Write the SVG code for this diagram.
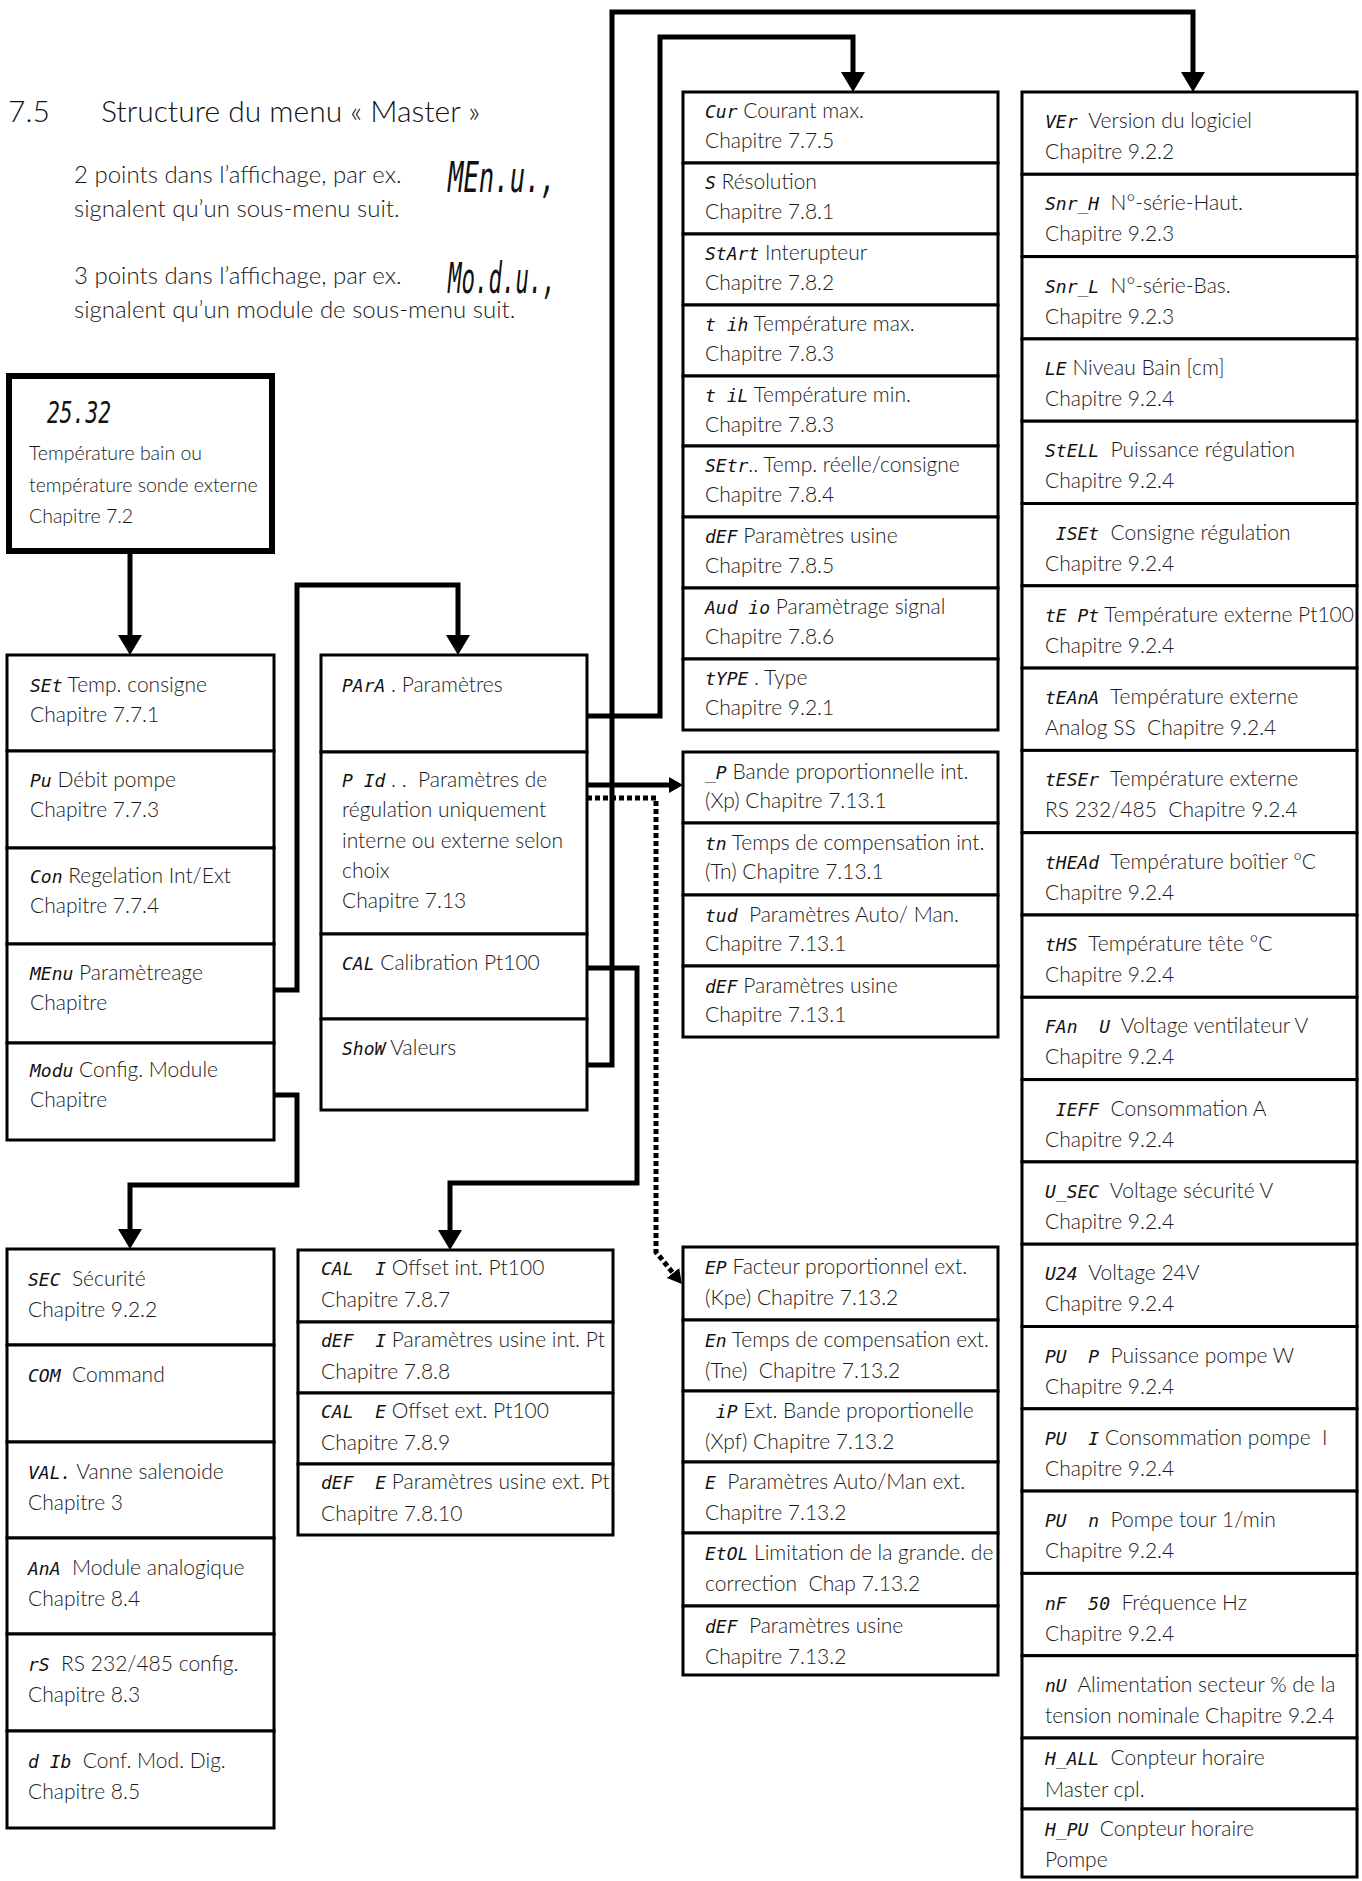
<svg xmlns="http://www.w3.org/2000/svg" width="1362" height="1881" viewBox="0 0 1362 1881">
<style>
.t{font-family:Lato,"Open Sans",sans-serif;font-size:21px;font-weight:300;fill:#1a1a1a}
.h{font-family:Lato,"Open Sans",sans-serif;font-size:24px;font-weight:300;fill:#1a1a1a}
.ti{font-family:Lato,"Open Sans",sans-serif;font-size:30px;font-weight:300;fill:#111}
.s{font-family:"DejaVu Sans Mono",monospace;font-style:oblique;font-size:18px;fill:#111}
.sb{font-family:"DejaVu Sans Mono",monospace;font-style:oblique;font-size:42px;fill:#111}
.box{fill:#fff;stroke:#000;stroke-width:3}
.bold{fill:#fff;stroke:#000;stroke-width:6}
.c{fill:none;stroke:#000;stroke-width:5}
.d{fill:none;stroke:#000;stroke-width:5;stroke-dasharray:5 3}
</style>
<defs>
<marker id="a" markerUnits="userSpaceOnUse" viewBox="0 0 20 24" markerWidth="20" markerHeight="24" refX="0" refY="12" orient="auto"><path d="M0,0 L20,12 L0,24 z" fill="#000"/></marker>
<marker id="as" markerUnits="userSpaceOnUse" viewBox="0 0 14 16" markerWidth="14" markerHeight="16" refX="0" refY="8" orient="auto"><path d="M0,0 L14,8 L0,16 z" fill="#000"/></marker>
</defs>

<g id="header">
<text class="ti" x="8" y="122">7.5</text>
<text class="ti" x="101" y="122">Structure du menu « Master »</text>
<text class="h" x="74" y="183">2 points dans l’affichage, par ex.</text>
<text class="sb" x="448" y="192" textLength="108" lengthAdjust="spacingAndGlyphs">MEn.u.,</text>
<text class="h" x="74" y="217">signalent qu’un sous-menu suit.</text>
<text class="h" x="74" y="284">3 points dans l’affichage, par ex.</text>
<text class="sb" x="448" y="293" textLength="108" lengthAdjust="spacingAndGlyphs">Mo.d.u.,</text>
<text class="h" x="74" y="318">signalent qu’un module de sous-menu suit.</text>
</g>

<g id="connectors">
<path class="c" d="M130,554 V635" marker-end="url(#a)"/>
<path class="c" d="M274,990 H297 V585 H458 V635" marker-end="url(#a)"/>
<path class="c" d="M274,1095 H297 V1185 H130 V1229" marker-end="url(#a)"/>
<path class="c" d="M587,716 H660 V37 H853 V72" marker-end="url(#a)"/>
<path class="c" d="M587,1065 H612 V12 H1193 V72" marker-end="url(#a)"/>
<path class="c" d="M587,968 H637 V1183 H450 V1230" marker-end="url(#a)"/>
<path class="c" d="M587,785 H669" marker-end="url(#as)"/>
<path class="d" d="M587,798 H656 V1252 L673,1273" marker-end="url(#as)"/>
</g>

<g id="n-display">
<rect class="bold" x="9" y="376" width="263" height="175"/>
<text class="sb" x="47" y="423" style="font-size:30px" textLength="64" lengthAdjust="spacingAndGlyphs">25.32</text>
<text class="t" x="29" y="460" style="font-size:19.5px">Température bain ou</text>
<text class="t" x="29" y="492" style="font-size:19.5px">température sonde externe</text>
<text class="t" x="29" y="523" style="font-size:19.5px">Chapitre 7.2</text>
</g>

<g id="n-main">
<rect class="box" x="7" y="655" width="267" height="96"/>
<rect class="box" x="7" y="751" width="267" height="97"/>
<rect class="box" x="7" y="848" width="267" height="96"/>
<rect class="box" x="7" y="944" width="267" height="99"/>
<rect class="box" x="7" y="1043" width="267" height="97"/>
<text class="t" x="30" y="692"><tspan class="s">SEt</tspan> Temp. consigne</text>
<text class="t" x="30" y="722">Chapitre 7.7.1</text>
<text class="t" x="30" y="787"><tspan class="s">Pu</tspan> Débit pompe</text>
<text class="t" x="30" y="817">Chapitre 7.7.3</text>
<text class="t" x="30" y="883"><tspan class="s">Con</tspan> Regelation Int/Ext</text>
<text class="t" x="30" y="913">Chapitre 7.7.4</text>
<text class="t" x="30" y="980"><tspan class="s">MEnu</tspan> Paramètreage</text>
<text class="t" x="30" y="1010">Chapitre</text>
<text class="t" x="30" y="1077"><tspan class="s">Modu</tspan> Config. Module</text>
<text class="t" x="30" y="1107">Chapitre</text>
</g>

<g id="n-menu">
<rect class="box" x="321" y="655" width="266" height="97"/>
<rect class="box" x="321" y="752" width="266" height="182"/>
<rect class="box" x="321" y="934" width="266" height="85"/>
<rect class="box" x="321" y="1019" width="266" height="91"/>
<text class="t" x="342" y="692"><tspan class="s">PArA</tspan> . Paramètres</text>
<text class="t" x="342" y="787"><tspan class="s">P Id</tspan> . .&#160; Paramètres de</text>
<text class="t" x="342" y="817">régulation uniquement</text>
<text class="t" x="342" y="848">interne ou externe selon</text>
<text class="t" x="342" y="878">choix</text>
<text class="t" x="342" y="908">Chapitre 7.13</text>
<text class="t" x="342" y="970"><tspan class="s">CAL</tspan> Calibration Pt100</text>
<text class="t" x="342" y="1055"><tspan class="s">ShoW</tspan> Valeurs</text>
</g>

<g id="n-para">
<rect class="box" x="683" y="92" width="315" height="71"/>
<rect class="box" x="683" y="163" width="315" height="71"/>
<rect class="box" x="683" y="234" width="315" height="71"/>
<rect class="box" x="683" y="305" width="315" height="71"/>
<rect class="box" x="683" y="376" width="315" height="70"/>
<rect class="box" x="683" y="446" width="315" height="71"/>
<rect class="box" x="683" y="517" width="315" height="71"/>
<rect class="box" x="683" y="588" width="315" height="71"/>
<rect class="box" x="683" y="659" width="315" height="71"/>
<text class="t" x="705" y="118"><tspan class="s">Cur</tspan> Courant max.</text>
<text class="t" x="705" y="148">Chapitre 7.7.5</text>
<text class="t" x="705" y="189"><tspan class="s">S</tspan> Résolution</text>
<text class="t" x="705" y="219">Chapitre 7.8.1</text>
<text class="t" x="705" y="260"><tspan class="s">StArt</tspan> Interupteur</text>
<text class="t" x="705" y="290">Chapitre 7.8.2</text>
<text class="t" x="705" y="331"><tspan class="s">t ih</tspan> Température max.</text>
<text class="t" x="705" y="361">Chapitre 7.8.3</text>
<text class="t" x="705" y="402"><tspan class="s">t iL</tspan> Température min.</text>
<text class="t" x="705" y="432">Chapitre 7.8.3</text>
<text class="t" x="705" y="472"><tspan class="s">SEtr</tspan>.. Temp. réelle/consigne</text>
<text class="t" x="705" y="502">Chapitre 7.8.4</text>
<text class="t" x="705" y="543"><tspan class="s">dEF</tspan> Paramètres usine</text>
<text class="t" x="705" y="573">Chapitre 7.8.5</text>
<text class="t" x="705" y="614"><tspan class="s">Aud io</tspan> Paramètrage signal</text>
<text class="t" x="705" y="644">Chapitre 7.8.6</text>
<text class="t" x="705" y="685"><tspan class="s">tYPE</tspan> . Type</text>
<text class="t" x="705" y="715">Chapitre 9.2.1</text>
</g>

<g id="n-pid-int">
<rect class="box" x="683" y="752" width="315" height="71"/>
<rect class="box" x="683" y="823" width="315" height="72"/>
<rect class="box" x="683" y="895" width="315" height="71"/>
<rect class="box" x="683" y="966" width="315" height="71"/>
<text class="t" x="705" y="779"><tspan class="s">_P</tspan> Bande proportionnelle int.</text>
<text class="t" x="705" y="808">(Xp) Chapitre 7.13.1</text>
<text class="t" x="705" y="850"><tspan class="s">tn</tspan> Temps de compensation int.</text>
<text class="t" x="705" y="879">(Tn) Chapitre 7.13.1</text>
<text class="t" x="705" y="922"><tspan class="s">tud</tspan>&#160; Paramètres Auto/ Man.</text>
<text class="t" x="705" y="951">Chapitre 7.13.1</text>
<text class="t" x="705" y="993"><tspan class="s">dEF</tspan> Paramètres usine</text>
<text class="t" x="705" y="1022">Chapitre 7.13.1</text>
</g>

<g id="n-cal">
<rect class="box" x="298" y="1250" width="315" height="72"/>
<rect class="box" x="298" y="1322" width="315" height="71"/>
<rect class="box" x="298" y="1393" width="315" height="71"/>
<rect class="box" x="298" y="1464" width="315" height="71"/>
<text class="t" x="321" y="1275"><tspan class="s">CAL&#160;&#160;I</tspan> Offset int. Pt100</text>
<text class="t" x="321" y="1307">Chapitre 7.8.7</text>
<text class="t" x="321" y="1347"><tspan class="s">dEF&#160;&#160;I</tspan> Paramètres usine int. Pt</text>
<text class="t" x="321" y="1379">Chapitre 7.8.8</text>
<text class="t" x="321" y="1418"><tspan class="s">CAL&#160;&#160;E</tspan> Offset ext. Pt100</text>
<text class="t" x="321" y="1450">Chapitre 7.8.9</text>
<text class="t" x="321" y="1489"><tspan class="s">dEF&#160;&#160;E</tspan> Paramètres usine ext. Pt</text>
<text class="t" x="321" y="1521">Chapitre 7.8.10</text>
</g>

<g id="n-pid-ext">
<rect class="box" x="683" y="1247" width="315" height="73"/>
<rect class="box" x="683" y="1320" width="315" height="71"/>
<rect class="box" x="683" y="1391" width="315" height="71"/>
<rect class="box" x="683" y="1462" width="315" height="71"/>
<rect class="box" x="683" y="1533" width="315" height="73"/>
<rect class="box" x="683" y="1606" width="315" height="69"/>
<text class="t" x="705" y="1274"><tspan class="s">EP</tspan> Facteur proportionnel ext.</text>
<text class="t" x="705" y="1305">(Kpe) Chapitre 7.13.2</text>
<text class="t" x="705" y="1347"><tspan class="s">En</tspan> Temps de compensation ext.</text>
<text class="t" x="705" y="1378">(Tne)&#160; Chapitre 7.13.2</text>
<text class="t" x="705" y="1418"><tspan class="s">&#160;iP</tspan> Ext. Bande proportionelle</text>
<text class="t" x="705" y="1449">(Xpf) Chapitre 7.13.2</text>
<text class="t" x="705" y="1489"><tspan class="s">E</tspan>&#160; Paramètres Auto/Man ext.</text>
<text class="t" x="705" y="1520">Chapitre 7.13.2</text>
<text class="t" x="705" y="1560"><tspan class="s">EtOL</tspan> Limitation de la grande. de</text>
<text class="t" x="705" y="1591">correction&#160; Chap 7.13.2</text>
<text class="t" x="705" y="1633"><tspan class="s">dEF</tspan>&#160; Paramètres usine</text>
<text class="t" x="705" y="1664">Chapitre 7.13.2</text>
</g>

<g id="n-modu">
<rect class="box" x="7" y="1249" width="267" height="96"/>
<rect class="box" x="7" y="1345" width="267" height="97"/>
<rect class="box" x="7" y="1442" width="267" height="96"/>
<rect class="box" x="7" y="1538" width="267" height="96"/>
<rect class="box" x="7" y="1634" width="267" height="97"/>
<rect class="box" x="7" y="1731" width="267" height="97"/>
<text class="t" x="28" y="1286"><tspan class="s">SEC</tspan>&#160; Sécurité</text>
<text class="t" x="28" y="1317">Chapitre 9.2.2</text>
<text class="t" x="28" y="1382"><tspan class="s">COM</tspan>&#160; Command</text>
<text class="t" x="28" y="1479"><tspan class="s">VAL.</tspan> Vanne salenoide</text>
<text class="t" x="28" y="1510">Chapitre 3</text>
<text class="t" x="28" y="1575"><tspan class="s">AnA</tspan>&#160; Module analogique</text>
<text class="t" x="28" y="1606">Chapitre 8.4</text>
<text class="t" x="28" y="1671"><tspan class="s">rS</tspan>&#160; RS 232/485 config.</text>
<text class="t" x="28" y="1702">Chapitre 8.3</text>
<text class="t" x="28" y="1768"><tspan class="s">d Ib</tspan>&#160; Conf. Mod. Dig.</text>
<text class="t" x="28" y="1799">Chapitre 8.5</text>
</g>

<g id="n-show">
<rect class="box" x="1022" y="92" width="335" height="82.3"/>
<rect class="box" x="1022" y="174.3" width="335" height="82.3"/>
<rect class="box" x="1022" y="256.6" width="335" height="82.3"/>
<rect class="box" x="1022" y="338.9" width="335" height="82.3"/>
<rect class="box" x="1022" y="421.2" width="335" height="82.3"/>
<rect class="box" x="1022" y="503.5" width="335" height="82.3"/>
<rect class="box" x="1022" y="585.8" width="335" height="82.3"/>
<rect class="box" x="1022" y="668.1" width="335" height="82.3"/>
<rect class="box" x="1022" y="750.4" width="335" height="82.3"/>
<rect class="box" x="1022" y="832.7" width="335" height="82.3"/>
<rect class="box" x="1022" y="915" width="335" height="82.3"/>
<rect class="box" x="1022" y="997.3" width="335" height="82.3"/>
<rect class="box" x="1022" y="1079.6" width="335" height="82.3"/>
<rect class="box" x="1022" y="1161.9" width="335" height="82.3"/>
<rect class="box" x="1022" y="1244.2" width="335" height="82.3"/>
<rect class="box" x="1022" y="1326.5" width="335" height="82.3"/>
<rect class="box" x="1022" y="1408.8" width="335" height="82.3"/>
<rect class="box" x="1022" y="1491.1" width="335" height="82.3"/>
<rect class="box" x="1022" y="1573.4" width="335" height="82.3"/>
<rect class="box" x="1022" y="1655.7" width="335" height="82.3"/>
<rect class="box" x="1022" y="1738" width="335" height="71"/>
<rect class="box" x="1022" y="1809" width="335" height="68"/>
<text class="t" x="1045" y="128"><tspan class="s">VEr</tspan>&#160; Version du logiciel</text>
<text class="t" x="1045" y="159">Chapitre 9.2.2</text>
<text class="t" x="1045" y="210"><tspan class="s">Snr_H</tspan>&#160; N°-série-Haut.</text>
<text class="t" x="1045" y="241">Chapitre 9.2.3</text>
<text class="t" x="1045" y="293"><tspan class="s">Snr_L</tspan>&#160; N°-série-Bas.</text>
<text class="t" x="1045" y="324">Chapitre 9.2.3</text>
<text class="t" x="1045" y="375"><tspan class="s">LE</tspan> Niveau Bain [cm]</text>
<text class="t" x="1045" y="406">Chapitre 9.2.4</text>
<text class="t" x="1045" y="457"><tspan class="s">StELL</tspan>&#160; Puissance régulation</text>
<text class="t" x="1045" y="488">Chapitre 9.2.4</text>
<text class="t" x="1045" y="540"><tspan class="s">&#160;ISEt</tspan>&#160; Consigne régulation</text>
<text class="t" x="1045" y="571">Chapitre 9.2.4</text>
<text class="t" x="1045" y="622"><tspan class="s">tE Pt</tspan> Température externe Pt100</text>
<text class="t" x="1045" y="653">Chapitre 9.2.4</text>
<text class="t" x="1045" y="704"><tspan class="s">tEAnA</tspan>&#160; Température externe</text>
<text class="t" x="1045" y="735">Analog SS&#160; Chapitre 9.2.4</text>
<text class="t" x="1045" y="786"><tspan class="s">tESEr</tspan>&#160; Température externe</text>
<text class="t" x="1045" y="817">RS 232/485&#160; Chapitre 9.2.4</text>
<text class="t" x="1045" y="869"><tspan class="s">tHEAd</tspan>&#160; Température boîtier °C</text>
<text class="t" x="1045" y="900">Chapitre 9.2.4</text>
<text class="t" x="1045" y="951"><tspan class="s">tHS</tspan>&#160; Température tête °C</text>
<text class="t" x="1045" y="982">Chapitre 9.2.4</text>
<text class="t" x="1045" y="1033"><tspan class="s">FAn&#160;&#160;U</tspan>&#160; Voltage ventilateur V</text>
<text class="t" x="1045" y="1064">Chapitre 9.2.4</text>
<text class="t" x="1045" y="1116"><tspan class="s">&#160;IEFF</tspan>&#160; Consommation A</text>
<text class="t" x="1045" y="1147">Chapitre 9.2.4</text>
<text class="t" x="1045" y="1198"><tspan class="s">U_SEC</tspan>&#160; Voltage sécurité V</text>
<text class="t" x="1045" y="1229">Chapitre 9.2.4</text>
<text class="t" x="1045" y="1280"><tspan class="s">U24</tspan>&#160; Voltage 24V</text>
<text class="t" x="1045" y="1311">Chapitre 9.2.4</text>
<text class="t" x="1045" y="1363"><tspan class="s">PU&#160;&#160;P</tspan>&#160; Puissance pompe W</text>
<text class="t" x="1045" y="1394">Chapitre 9.2.4</text>
<text class="t" x="1045" y="1445"><tspan class="s">PU&#160;&#160;I</tspan> Consommation pompe&#160; I</text>
<text class="t" x="1045" y="1476">Chapitre 9.2.4</text>
<text class="t" x="1045" y="1527"><tspan class="s">PU&#160;&#160;n</tspan>&#160; Pompe tour 1/min</text>
<text class="t" x="1045" y="1558">Chapitre 9.2.4</text>
<text class="t" x="1045" y="1610"><tspan class="s">nF&#160;&#160;50</tspan>&#160; Fréquence Hz</text>
<text class="t" x="1045" y="1641">Chapitre 9.2.4</text>
<text class="t" x="1045" y="1692"><tspan class="s">nU</tspan>&#160; Alimentation secteur % de la</text>
<text class="t" x="1045" y="1723">tension nominale Chapitre 9.2.4</text>
<text class="t" x="1045" y="1765"><tspan class="s">H_ALL</tspan>&#160; Conpteur horaire</text>
<text class="t" x="1045" y="1797">Master cpl.</text>
<text class="t" x="1045" y="1836"><tspan class="s">H_PU</tspan>&#160; Conpteur horaire</text>
<text class="t" x="1045" y="1867">Pompe</text>
</g>
</svg>
